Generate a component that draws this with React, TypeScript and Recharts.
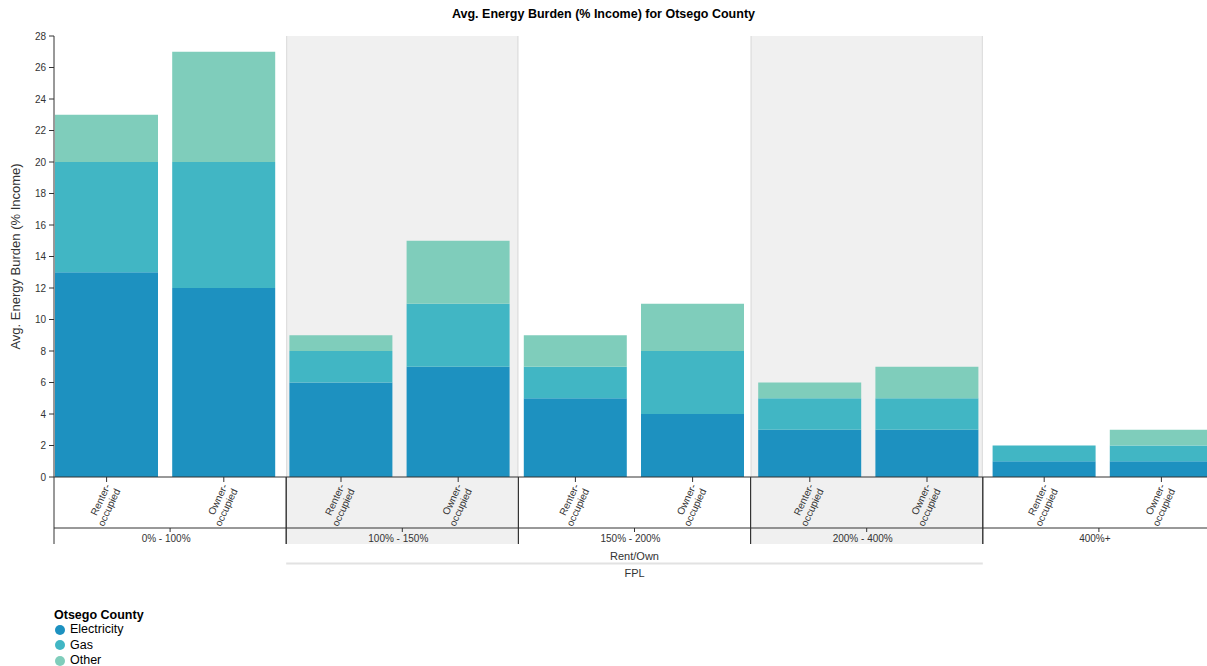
import { BarChart, Bar, XAxis, YAxis, ReferenceArea, Legend } from "recharts";

// data
const fplGroups = ["0% - 100%", "100% - 150%", "150% - 200%", "200% - 400%", "400%+"];
const tenures = ["Renter-occupied", "Owner-occupied"];
const electricity = [13, 12, 6, 7, 5, 4, 3, 3, 1, 1];
const gas = [7, 8, 2, 4, 2, 4, 2, 2, 1, 1];
const other = [3, 7, 1, 4, 2, 3, 1, 2, 0, 1];
const yTicks = [0, 2, 4, 6, 8, 10, 12, 14, 16, 18, 20, 22, 24, 26, 28];
const shadedGroups = ["100% - 150%", "200% - 400%"];

const series = [
  { key: "electricity", name: "Electricity", color: "#1d91c0" },
  { key: "gas", name: "Gas", color: "#41b6c4" },
  { key: "other", name: "Other", color: "#7fcdbb" },
];

const rows = electricity.map((e, i) => ({
  id: i,
  fpl: fplGroups[Math.floor(i / 2)],
  tenure: tenures[i % 2],
  electricity: e,
  gas: gas[i],
  other: other[i],
}));

// layout
const CHART_W = 1215;
const CHART_H = 666;
const Y_AXIS_W = 54;
const PLOT_W = CHART_W - Y_AXIS_W;
const TENURE_AXIS_H = 51;
const FPL_AXIS_H = 76;
const LEGEND_H = 62;
const FONT = '"Liberation Sans", Arial, Helvetica, sans-serif';
const INK = "#333";

function TenureTick(props: any) {
  const { x, y, payload } = props;
  const label: string = rows[payload.value]?.tenure ?? "";
  const cut = label.indexOf("-");
  const first = label.slice(0, cut + 1);
  const second = label.slice(cut + 1);
  return (
    <g transform={`translate(${x + 4},${y + 1}) rotate(-65)`}>
      <text textAnchor="end" fontSize={10} fill={INK} fontFamily={FONT}>
        <tspan x={0} dy={0}>{first}</tspan>
        <tspan x={0} dy={11}>{second}</tspan>
      </text>
    </g>
  );
}

function FplTick(props: any) {
  const { x, y, payload } = props;
  const axisY = y - 6; // tickSize 4 + tickMargin 2
  const half = PLOT_W / fplGroups.length / 2;
  const top = axisY - TENURE_AXIS_H;
  const bottom = axisY + 16;
  return (
    <g>
      <line x1={x - half} x2={x - half} y1={top} y2={bottom} stroke={INK} strokeWidth={1} />
      <line x1={x + half} x2={x + half} y1={top} y2={bottom} stroke={INK} strokeWidth={1} />
      <text x={x - 4} y={axisY + 14} textAnchor="middle" fontSize={10} fill={INK} fontFamily={FONT}>
        {payload.value}
      </text>
    </g>
  );
}

function FplAxisLabel(props: any) {
  const { viewBox } = props;
  const { x, y, width } = viewBox;
  const cx = x + width / 2;
  const step = width / fplGroups.length;
  return (
    <g fontFamily={FONT} fontSize={11} fill={INK}>
      <text x={cx} y={y + 32} textAnchor="middle">Rent/Own</text>
      <line x1={x + step} x2={x + step * 4} y1={y + 35.5} y2={y + 35.5} stroke="#e2e2e2" strokeWidth={2} />
      <text x={cx} y={y + 49} textAnchor="middle">FPL</text>
    </g>
  );
}

function YLabel(props: any) {
  const { viewBox } = props;
  const cy = viewBox.y + viewBox.height / 2;
  return (
    <text
      transform={`translate(20,${cy}) rotate(-90)`}
      textAnchor="middle"
      fontSize={13}
      fill={INK}
      fontFamily={FONT}
    >
      Avg. Energy Burden (% Income)
    </text>
  );
}

function ShadeShape(props: any) {
  const { x, y, width, height } = props;
  return (
    <g>
      <rect x={x} y={y} width={width} height={height + TENURE_AXIS_H + 16} fill="#f0f0f0" />
      <line x1={x + 0.5} x2={x + 0.5} y1={y} y2={y + height} stroke="#dadada" />
      <line x1={x + width - 0.5} x2={x + width - 0.5} y1={y} y2={y + height} stroke="#dadada" />
    </g>
  );
}

function LegendBox() {
  return (
    <div style={{ height: LEGEND_H, fontFamily: FONT, color: "#000", paddingTop: 5, boxSizing: "border-box" }}>
      <div style={{ fontWeight: "bold", fontSize: 12.5, lineHeight: "13px" }}>Otsego County</div>
      {series.map((s) => (
        <div key={s.key} style={{ display: "flex", alignItems: "center", fontSize: 12.5, lineHeight: "15.5px" }}>
          <span
            style={{
              display: "inline-block",
              width: 10,
              height: 10,
              borderRadius: 5,
              background: s.color,
              marginLeft: 1,
              marginRight: 5,
            }}
          />
          {s.name}
        </div>
      ))}
    </div>
  );
}

export default function App() {
  return (
    <div style={{ position: "absolute", left: 0, top: 0, width: 1207, height: 666, overflow: "hidden", background: "#fff" }}>
      <div
        style={{
          position: "absolute",
          top: 7,
          left: 0,
          width: 1207,
          textAlign: "center",
          fontFamily: FONT,
          fontWeight: "bold",
          fontSize: 12.5,
          lineHeight: "14px",
          zIndex: 2,
        }}
      >
        Avg. Energy Burden (% Income) for Otsego County
      </div>
      <BarChart
        width={CHART_W}
        height={CHART_H}
        data={rows}
        margin={{ top: 36, right: 0, bottom: 0, left: 0 }}
      >
        {shadedGroups.map((g) => (
          <ReferenceArea
            key={g}
            xAxisId="fpl"
            x1={g}
            x2={g}
            ifOverflow="visible"
            shape={ShadeShape}
          />
        ))}
        <XAxis
          xAxisId={0}
          dataKey="id"
          type="category"
          height={TENURE_AXIS_H}
          padding={{ left: -6, right: -5 }}
          interval={0}
          tickSize={5}
          tickMargin={3}
          tick={TenureTick}
          axisLine={{ stroke: INK }}
          tickLine={{ stroke: INK }}
        />
        <XAxis
          xAxisId="fpl"
          dataKey="fpl"
          type="category"
          allowDuplicatedCategory={false}
          height={FPL_AXIS_H}
          interval={0}
          tickSize={4}
          tickMargin={2}
          tick={FplTick}
          axisLine={{ stroke: INK }}
          tickLine={{ stroke: INK }}
          label={{ content: FplAxisLabel }}
        />
        <YAxis
          width={Y_AXIS_W}
          domain={[0, 28]}
          ticks={yTicks}
          interval={0}
          tickSize={5}
          tickMargin={3}
          tick={{ fontSize: 10, fill: INK, fontFamily: FONT }}
          axisLine={{ stroke: INK }}
          tickLine={{ stroke: INK }}
          label={{ content: YLabel }}
        />
        {series.map((s) => (
          <Bar
            key={s.key}
            dataKey={s.key}
            name={s.name}
            stackId="burden"
            fill={s.color}
            barSize={103}
            isAnimationActive={false}
          />
        ))}
        <Legend
          layout="horizontal"
          align="left"
          verticalAlign="bottom"
          content={LegendBox}
          wrapperStyle={{ left: 54, width: 300, height: LEGEND_H }}
        />
      </BarChart>
    </div>
  );
}
